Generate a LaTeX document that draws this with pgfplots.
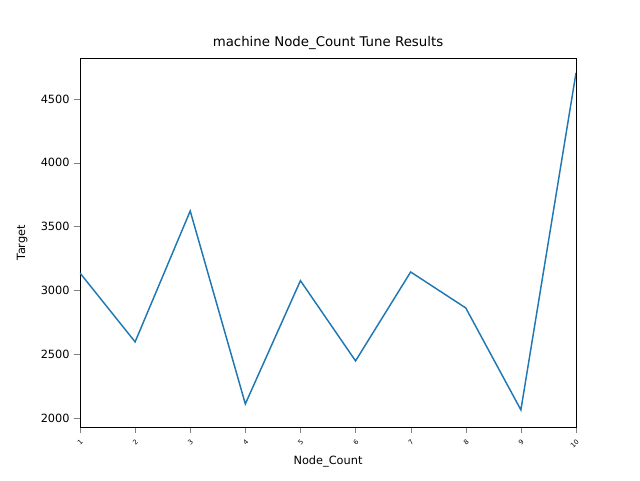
\documentclass[border=0pt]{standalone}
\usepackage{pgfplots}
\pgfplotsset{compat=1.18}
\usepackage{fontspec}
\setmainfont{DejaVu Sans}
\begin{document}
\begin{tikzpicture}
\path[use as bounding box] (-60pt,-39.75pt) rectangle (420pt,320.25pt);
\begin{axis}[at={(0,0)},anchor=south west,scale only axis,width=372pt,height=276.75pt,
 xmin=1,xmax=10,ymin=1929,ymax=4821,
 xtick={1,...,10},
 xticklabel style={font=\fontsize{5}{6}\selectfont,rotate=45,anchor=north east},
 yticklabel style={font=\fontsize{8.5}{10}\selectfont},
 ytick={2000,2500,3000,3500,4000,4500},
 /pgf/number format/assume math mode=true,
 /pgf/number format/1000 sep={},
 xlabel={Node\_Count},ylabel={Target},
 xlabel style={font=\fontsize{8.5}{10}\selectfont,yshift=3pt},
 ylabel style={font=\fontsize{8.5}{10}\selectfont,yshift=3pt},
 title={machine Node\_Count Tune Results},
 title style={font=\fontsize{10}{12}\selectfont,yshift=-3pt},
 tick align=outside,tick pos=left]
\addplot[color={rgb,255:red,31;green,119;blue,180},line width=1.1pt,mark=none] coordinates {
(1,3136)(2,2596)(3,3622)(4,2110)(5,3076)(6,2447)(7,3144)(8,2862)(9,2063)(10,4704)};
\end{axis}
\end{tikzpicture}
\end{document}
